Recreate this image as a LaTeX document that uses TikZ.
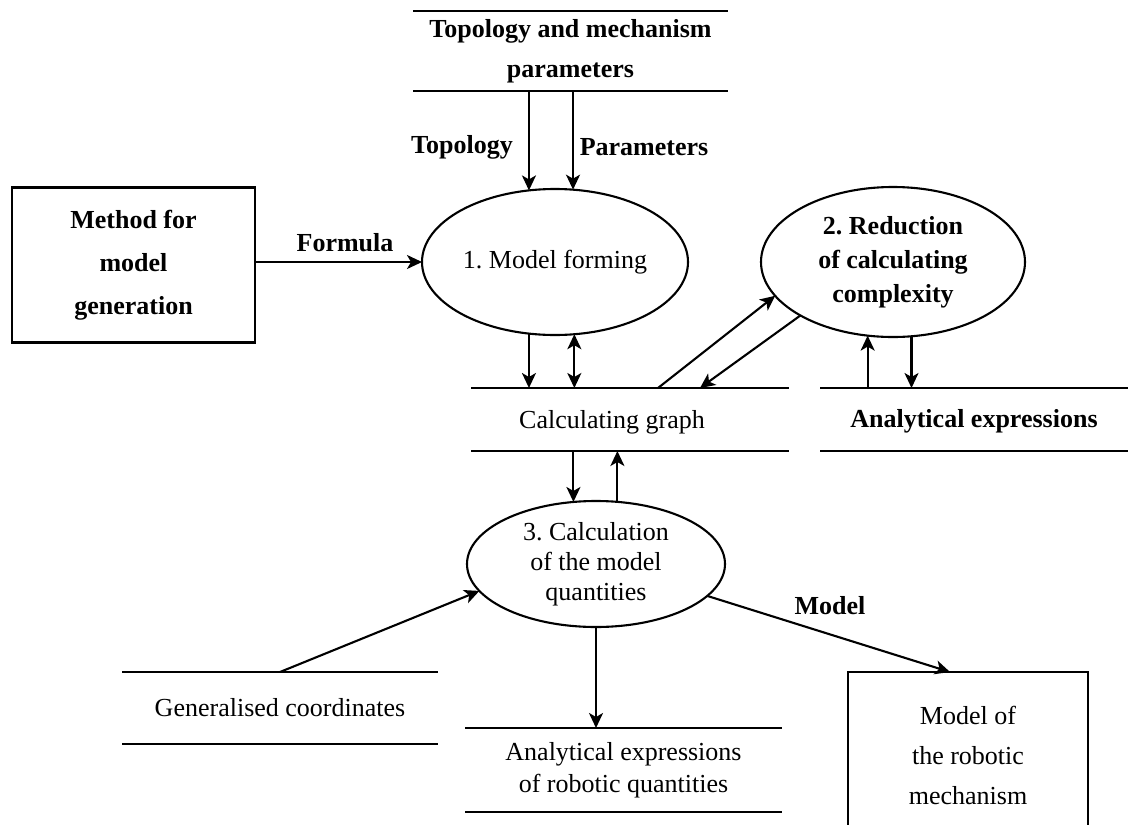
\documentclass[tikz,border=0pt]{standalone}
\usepackage{fontspec}
\setmainfont{Liberation Serif}
\usepackage{tikz}
\usetikzlibrary{arrows.meta}
\usetikzlibrary{shapes.geometric}
\frenchspacing
\tikzset{>={Stealth[length=15pt, width=14pt, inset=4pt]}}
\tikzstyle{proc} = [ellipse, draw=black, inner sep=0, outer sep=0, align=center]
\tikzstyle{ent} = [rectangle, draw=black, inner sep=0, outer sep=0, align=center]
\tikzstyle{store} = [draw=none, inner sep=0, outer sep=0, align=center]
\tikzstyle{lbl} = [draw=none, inner sep=1, font=\fsz{30}\bfseries]
\newcommand{\fsz}[1]{\fontsize{26pt}{#1pt}\selectfont}

\begin{document}
\begin{tikzpicture}[x=1pt, y=-1pt, line width=2.1pt]
\useasboundingbox (0,0) rectangle (1128,825);
% data stores
\node [store, minimum width=315pt, minimum height=80pt, font=\fsz{40}\bfseries] (params) at (570.5, 51) {Topology and mechanism\\parameters};
\node [store, minimum width=318pt, minimum height=63pt] (graph) at (630, 419.5) {};
\node [draw=none, inner sep=1, font=\fsz{30}] (graphtxt) at (612, 422) {Calculating graph};
\node [store, minimum width=308pt, minimum height=63pt, font=\fsz{30}\bfseries] (anexp) at (974, 421) {Analytical expressions};
\node [store, minimum width=316pt, minimum height=72pt, font=\fsz{30}] (gencoord) at (280, 708) {Generalised coordinates};
\node [store, minimum width=317pt, minimum height=84pt, font=\fsz{32}] (anrob) at (623.5, 770) {Analytical expressions\\of robotic quantities};
\draw (params.north west) -- (params.north east);
\draw (params.south west) -- (params.south east);
\draw (graph.north west) -- (graph.north east);
\draw (graph.south west) -- (graph.south east);
\draw (anexp.north west |- graph.north) -- (anexp.north east |- graph.north);
\draw (anexp.south west |- graph.south) -- (anexp.south east |- graph.south);
\draw (gencoord.north west) -- (gencoord.north east);
\draw (gencoord.south west) -- (gencoord.south east);
\draw (anrob.north west) -- (anrob.north east);
\draw (anrob.south west) -- (anrob.south east);
% processes
\node [proc, minimum width=266pt, minimum height=146pt, font=\fsz{30}] (form) at (555, 262) {1. Model forming};
\node [proc, minimum width=264pt, minimum height=150pt, font=\fsz{34}\bfseries] (redu) at (893, 262) {2. Reduction\\of calculating\\complexity};
\node [proc, minimum width=258pt, minimum height=126pt, font=\fsz{30}] (calc) at (596, 564) {3. Calculation\\of the model\\quantities};
% terminators
\node [ent, minimum width=243pt, minimum height=155pt, font=\fsz{43}\bfseries] (method) at (133.5, 265) {Method for\\model\\generation};
\node [ent, minimum width=240pt, minimum height=166pt, font=\fsz{40}] (mech) at (968, 755) {Model of\\the robotic\\mechanism};
% labels
\node [lbl] (ltopo) at (462, 147) {Topology};
\node [lbl] (lparam) at (644, 147) {Parameters};
\node [lbl] (lform) at (345, 243) {Formula};
\node [lbl] (lmodel) at (830, 606) {Model};
% flows
\draw [->] (form.110.7 |- params.south) -- (form.110.7);
\draw [->] (form.76 |- params.south) -- (form.76);
\draw [->] (method.east |- form.west) -- (form.west);
\draw [->] (form.250) -- (form.250 |- graph.north);
\draw [<->] (form.285.5) -- (form.285.5 |- graph.north);
\draw [->] ([xshift=187pt]graph.north west) -- (redu.196.9);
\draw [->] (redu.210.1) -- ([xshift=229pt]graph.north west);
\draw [->] (redu.251.2 |- graph.north) -- (redu.251.2);
\draw [->] (redu.284.4) -- (redu.284.4 |- graph.north);
\draw [->] (calc.110.3 |- graph.south) -- (calc.110.3);
\draw [->] (calc.71.3) -- (calc.71.3 |- graph.south);
\draw [->] (gencoord.north) -- (calc.193.7);
\draw [->] (calc.south) -- (calc.south |- anrob.north);
\draw [->] (calc.344.3) -- ([xshift=102pt]mech.north west);
\end{tikzpicture}
\end{document}
